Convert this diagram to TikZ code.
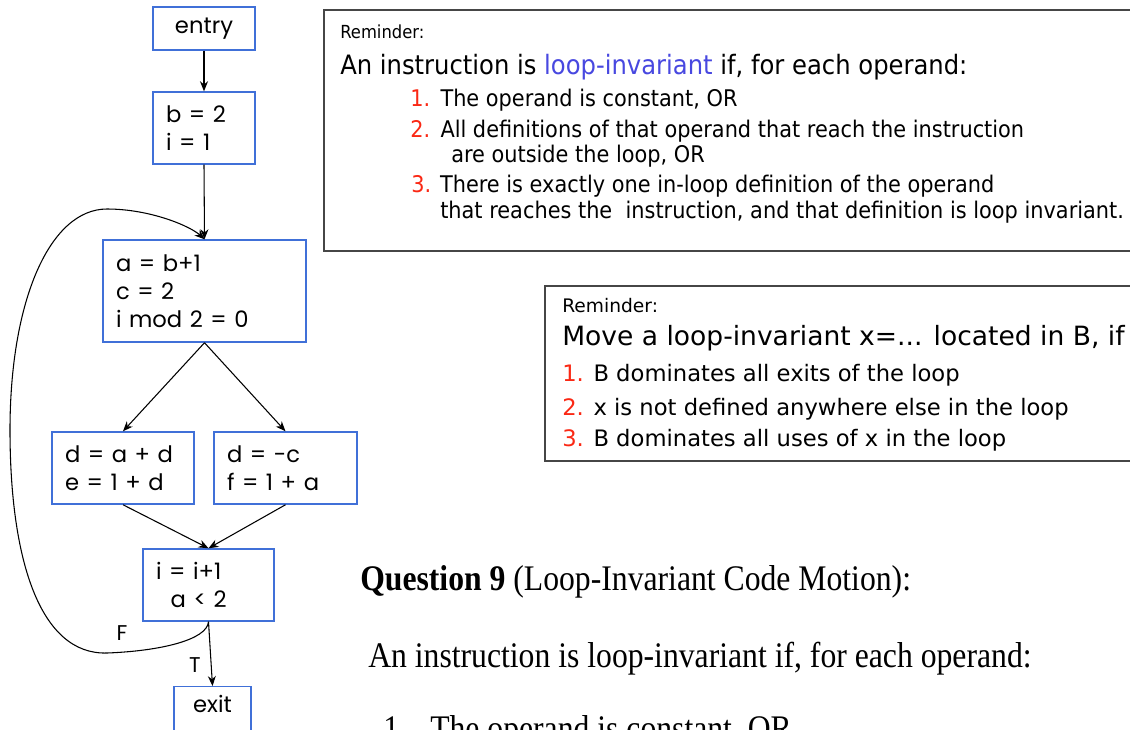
\documentclass[tikz,border=0pt]{standalone}
\usepackage{fontspec}
\usetikzlibrary{arrows.meta, positioning}
\setmainfont{Liberation Serif}
\newfontfamily\cfgfont{Poppins}
\newfontfamily\tahomafont[FakeStretch=0.91]{DejaVu Sans}
\newfontfamily\verdanafont{DejaVu Sans}
\newfontfamily\timesfont[FakeStretch=0.88]{Liberation Serif}
\definecolor{cfgblue}{RGB}{64,112,216}
\definecolor{invblue}{RGB}{72,72,224}
\definecolor{numred}{RGB}{250,40,20}
\definecolor{framegray}{RGB}{70,70,70}

\begin{document}
\begin{tikzpicture}[x=0.75pt, y=-0.75pt]
    \tikzset{blk/.style={rectangle, draw=cfgblue, line width=1.1pt, inner xsep=9.75pt,
                         inner ysep=0pt, align=left, minimum height=54pt,
                         font=\cfgfont\fontsize{17}{21}\selectfont},
             flow/.style={-{Stealth[length=7.5pt, width=6pt]}, line width=0.8pt},
             remframe/.style={draw=framegray, line width=1.1pt},
             rem/.style={anchor=base west, inner sep=0pt},
             lbl/.style={font=\cfgfont\fontsize{16}{18}\selectfont, inner sep=0pt}}
    \useasboundingbox (0,0) rectangle (1130,729);
    \clip (0,0) rectangle (1130,729);
    % control flow graph
    \node[blk, align=center, minimum width=76.5pt, minimum height=32.25pt] (entry) at (204,28.5) {entry};
    \node[blk, text width=57pt] (binit) at (204,128) {b = 2\\i = 1};
    \node[blk, text width=132.75pt, minimum height=76.5pt] (abox) at (204.5,291) {a = b+1\\c = 2\\i mod 2 = 0};
    \node[blk, text width=87pt] (dleft) at (123,468) {d = a + d\\e = 1 + d};
    \node[blk, text width=87.75pt] (dright) at (285.5,468) {d = -c\\f = 1 + a};
    \node[blk, text width=78.75pt] (incr) at (208.5,585) {i = i+1\\\hspace*{11pt}a < 2};
    \node[blk, align=center, anchor=north, minimum width=57.75pt, minimum height=39pt,
          text depth=14pt] (exit) at (212.5,686) {exit};
    \foreach \a/\b in {entry/binit, binit/abox, abox/dleft, abox/dright, dleft/incr, dright/incr, incr/exit}
      \draw[flow] (\a.south) -- (\b.north);
    \draw[flow] (incr.south) .. controls (207,640) and (160,651) .. (107,653)
                .. controls (40,655) and (10,560) .. (10,430)
                .. controls (10,300) and (50,209) .. (107,209)
                .. controls (150,209) and (190,226) .. (abox.north);
    \node[lbl] (flab) at (122,633) {F};
    \node[lbl] (tlab) at (195,665) {T};
    % first reminder
    \draw[remframe] (324,10) rectangle (1140,251);
    \node[rem, font=\tahomafont\fontsize{13.5}{16}\selectfont] (r1head) at (340,38) {Reminder:};
    \node[rem, font=\tahomafont\fontsize{20}{24}\selectfont] (r1main) at (340,74)
      {An instruction is \textcolor{invblue}{loop-invariant} if, for each operand:};
    \begin{scope}[every node/.style={rem, font=\tahomafont\fontsize{17.2}{20}\selectfont}]
      \node (r1a) at (410,106) {\textcolor{numred}{1.}\hspace{0.45em}The operand is constant, OR};
      \node (r1b) at (410,137) {\textcolor{numred}{2.}\hspace{0.45em}All definitions of that operand that reach the instruction};
      \node (r1c) at (451,162) {are outside the loop, OR};
      \node (r1d) at (411,192) {\textcolor{numred}{3.} There is exactly one in-loop definition of the operand};
      \node (r1e) at (440,218) {that reaches the\ \ instruction, and that definition is loop invariant.};
    \end{scope}
    % second reminder
    \draw[remframe] (545,286) rectangle (1140,461);
    \node[rem, font=\verdanafont\fontsize{14}{16}\selectfont] (r2head) at (562,312) {Reminder:};
    \node[rem, font=\verdanafont\fontsize{19.9}{23}\selectfont] (r2main) at (562,345)
      {Move a loop-invariant x=... located in B, if};
    \begin{scope}[every node/.style={rem, font=\verdanafont\fontsize{17}{20}\selectfont}]
      \node (r2a) at (562,381) {\textcolor{numred}{1.} B dominates all exits of the loop};
      \node (r2b) at (562,415) {\textcolor{numred}{2.} x is not defined anywhere else in the loop};
      \node (r2c) at (562,446) {\textcolor{numred}{3.} B dominates all uses of x in the loop};
    \end{scope}
    % question text
    \begin{scope}[every node/.style={rem, font=\timesfont\fontsize{27}{30}\selectfont}]
      \node (qtitle) at (360,590) {\textbf{Question 9} (Loop-Invariant Code Motion):};
      \node (qline) at (368,667) {An instruction is loop-invariant if, for each operand:};
      \node (qnum) at (383,740) {1.};
      \node (qitem) at (430,740) {The operand is constant, OR};
    \end{scope}
\end{tikzpicture}
\end{document}
